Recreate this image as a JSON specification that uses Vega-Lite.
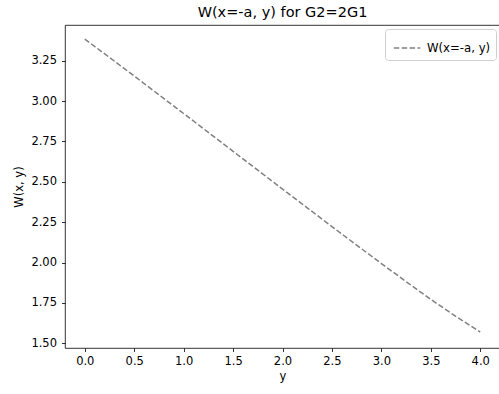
{
  "$schema": "https://vega.github.io/schema/vega-lite/v6.json",
  "width": 435,
  "height": 323,
  "autosize": {"type": "none"},
  "padding": {"left": 65, "top": 25, "right": 0, "bottom": 46},
  "title": {
    "text": "W(x=-a, y) for G2=2G1",
    "font": "DejaVu Sans",
    "fontSize": 14.5,
    "fontWeight": "normal",
    "color": "#000",
    "anchor": "middle",
    "frame": "group",
    "offset": 5
  },
  "data": {
    "values": [
      {"y": 0.0, "W": 3.384, "series": "W(x=-a, y)"},
      {"y": 0.25, "W": 3.270, "series": "W(x=-a, y)"},
      {"y": 0.5, "W": 3.155, "series": "W(x=-a, y)"},
      {"y": 0.75, "W": 3.039, "series": "W(x=-a, y)"},
      {"y": 1.0, "W": 2.923, "series": "W(x=-a, y)"},
      {"y": 1.25, "W": 2.806, "series": "W(x=-a, y)"},
      {"y": 1.5, "W": 2.689, "series": "W(x=-a, y)"},
      {"y": 1.75, "W": 2.572, "series": "W(x=-a, y)"},
      {"y": 2.0, "W": 2.455, "series": "W(x=-a, y)"},
      {"y": 2.25, "W": 2.339, "series": "W(x=-a, y)"},
      {"y": 2.5, "W": 2.223, "series": "W(x=-a, y)"},
      {"y": 2.75, "W": 2.108, "series": "W(x=-a, y)"},
      {"y": 3.0, "W": 1.994, "series": "W(x=-a, y)"},
      {"y": 3.25, "W": 1.882, "series": "W(x=-a, y)"},
      {"y": 3.5, "W": 1.772, "series": "W(x=-a, y)"},
      {"y": 3.75, "W": 1.668, "series": "W(x=-a, y)"},
      {"y": 4.0, "W": 1.570, "series": "W(x=-a, y)"}
    ]
  },
  "mark": {"type": "line", "strokeWidth": 1.5, "strokeDash": [5.5, 2.4]},
  "encoding": {
    "x": {
      "field": "y",
      "type": "quantitative",
      "scale": {"domain": [-0.2, 4.2], "nice": false, "zero": false},
      "axis": {
        "title": "y",
        "values": [0, 0.5, 1, 1.5, 2, 2.5, 3, 3.5, 4],
        "format": ".1f",
        "labelPadding": 4,
        "titlePadding": 3
      }
    },
    "y": {
      "field": "W",
      "type": "quantitative",
      "scale": {"domain": [1.471, 3.471], "nice": false, "zero": false},
      "axis": {
        "title": "W(x, y)",
        "values": [1.5, 1.75, 2.0, 2.25, 2.5, 2.75, 3.0, 3.25],
        "format": ".2f",
        "labelPadding": 5,
        "titlePadding": 6
      }
    },
    "color": {
      "field": "series",
      "type": "nominal",
      "scale": {"range": ["#808080"]},
      "legend": {
        "title": null,
        "orient": "top-right",
        "offset": 4,
        "padding": 5,
        "strokeColor": "#d0d0d0",
        "fillColor": "#ffffff",
        "cornerRadius": 3,
        "symbolType": "stroke",
        "symbolSize": 700,
        "symbolStrokeWidth": 1.5,
        "symbolDash": [5.5, 2.4],
        "symbolOffset": 3,
        "labelOffset": 6,
        "labelFont": "DejaVu Sans",
        "labelFontSize": 11.7,
        "labelColor": "#000"
      }
    }
  },
  "config": {
    "view": {"stroke": "#000", "strokeWidth": 0.8},
    "axis": {
      "grid": false,
      "domain": false,
      "tickColor": "#000",
      "tickWidth": 0.8,
      "tickSize": 3.5,
      "labelFont": "DejaVu Sans",
      "labelFontSize": 11.5,
      "labelColor": "#000",
      "titleFont": "DejaVu Sans",
      "titleFontSize": 11.5,
      "titleFontWeight": "normal",
      "titleColor": "#000"
    }
  }
}
